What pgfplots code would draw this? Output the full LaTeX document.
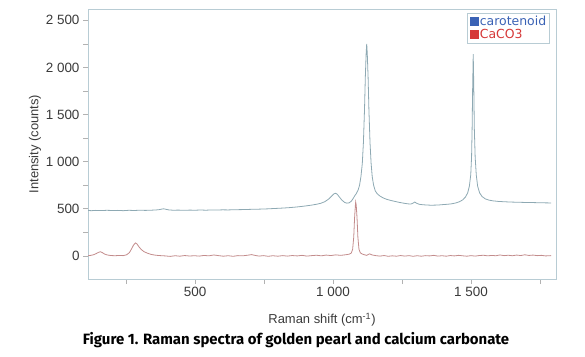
\documentclass[border=0pt]{standalone}
\usepackage{fontspec}
\setmainfont{Liberation Sans}
\newfontfamily\capfont{Fira Sans}
\newfontfamily\legfont{DejaVu Sans}
\usepackage{pgfplots}
\pgfplotsset{compat=1.18}
\definecolor{axcol}{HTML}{B8CCD4}
\definecolor{carline}{HTML}{8EA9B3}
\definecolor{caline}{HTML}{C38C8C}
\definecolor{legblue}{HTML}{3A62B5}
\definecolor{legred}{HTML}{D63838}
\definecolor{txt}{HTML}{3A3A3A}
\begin{document}
\begin{tikzpicture}[x=1bp,y=1bp]
\useasboundingbox (0,0) rectangle (585,356);
\begin{axis}[
  at={(88bp,77bp)}, anchor=south west,
  scale only axis, width=468bp, height=270bp,
  xmin=112, xmax=1808, ymin=-245, ymax=2620,
  axis line style={axcol, line width=0.9pt},
  tick pos=left, tick align=outside,
  tick style={color=gray!60, line width=0.6pt},
  major tick length=5bp, minor tick length=5bp,
  xtick={500,1000,1500}, minor xtick={250,750,1250,1750},
  ytick={0,500,1000,1500,2000,2500},
  minor ytick={-250,250,750,1250,1750,2250},
  ticklabel style={font=\fontsize{13.5}{15}\selectfont, text=txt},
  /pgf/number format/assume math mode=true,
  /pgf/number format/1000 sep={\hspace{0.28em}},
  xlabel={Raman shift (cm\textsuperscript{-1})},
  ylabel={Intensity (counts)},
  label style={font=\fontsize{13}{15}\selectfont, text=txt},
  xlabel style={yshift=-9bp},
  ylabel style={yshift=-2bp},
  legend style={at={(1,1)}, xshift=-6bp, yshift=-4bp, anchor=north east,
    draw=axcol, line width=0.6pt, font=\legfont\fontsize{12.5}{13}\selectfont,
    inner xsep=2bp, inner ysep=1bp, row sep=-2bp,
    nodes={inner xsep=1.5bp}},
  legend cell align=left,
]
\addlegendimage{legend image code/.code={\fill[legblue] (0bp,-4bp) rectangle (8bp,4bp);}}
\addlegendentry{\textcolor{legblue}{carotenoid}}
\addlegendimage{legend image code/.code={\fill[legred] (0bp,-4bp) rectangle (8bp,4bp);}}
\addlegendentry{\textcolor{legred}{CaCO3}}

\addplot[carline, line width=0.8pt, forget plot] coordinates {
(112,482) (125,480) (140,483) (160,481) (180,484) (200,482) (220,483) (240,480)
(260,484) (280,482) (300,485) (320,483) (340,485) (355,487) (368,490) (378,496)
(386,500) (394,495) (405,488) (420,485) (440,486) (460,484) (480,486) (500,485)
(520,487) (540,485) (560,488) (580,487) (600,489) (620,488) (640,490) (660,491)
(680,492) (700,494) (720,495) (740,497) (760,499) (780,502) (800,505) (820,508)
(840,512) (860,517) (880,523) (900,530) (920,538) (940,548) (955,558) (970,575)
(985,605) (995,635) (1003,658) (1009,665) (1015,655) (1023,625) (1032,592) (1042,568)
(1050,560) (1058,563) (1066,580) (1073,610) (1079,640) (1084,660) (1087,678) (1091,700)
(1096,750) (1101,840) (1106,980) (1110,1200) (1114,1550) (1117,1900) (1120,2150) (1122,2250)
(1124,2150) (1127,1900) (1130,1550) (1134,1200) (1138,980) (1142,840) (1147,750) (1153,690)
(1160,660) (1170,635) (1182,615) (1195,600) (1210,588) (1225,578) (1240,568) (1255,560)
(1270,553) (1282,550) (1290,560) (1296,572) (1302,560) (1312,548) (1325,543) (1340,540)
(1355,538) (1370,539) (1385,541) (1400,545) (1415,548) (1430,553) (1445,562) (1458,575)
(1470,595) (1480,625) (1488,670) (1494,740) (1499,860) (1502,1050) (1504,1350) (1506,1800)
(1508,2140) (1510,1800) (1512,1350) (1515,1050) (1519,860) (1524,740) (1531,670) (1540,630)
(1552,605) (1565,592) (1580,584) (1600,578) (1625,574) (1650,571) (1675,569) (1700,567)
(1725,566) (1750,564) (1770,563) (1790,562)
};
\addplot[caline, line width=0.8pt, forget plot] coordinates {
(112,2) (122,6) (132,12) (142,25) (150,38) (157,44) (164,35) (172,20) (182,10) (195,4)
(210,2) (225,5) (240,3) (252,12) (262,35) (270,75) (277,115) (284,138) (290,125) (297,95)
(305,68) (315,45) (328,28) (342,15) (358,7) (375,3) (392,0) (410,-5) (428,2) (445,-3)
(462,4) (480,-1) (498,2) (515,-2) (532,5) (550,1) (568,10) (585,3) (602,-3) (620,2)
(638,-4) (655,3) (672,1) (690,7) (705,14) (718,5) (732,-2) (748,3) (765,-4) (782,2)
(800,-3) (818,3) (835,-2) (852,4) (870,0) (888,6) (905,-2) (922,3) (940,7) (958,1)
(975,9) (992,4) (1010,11) (1028,6) (1045,12) (1058,18) (1066,30) (1071,70) (1075,200)
(1078,400) (1081,540) (1082,572) (1084,540) (1087,400) (1090,200) (1094,70) (1099,32)
(1106,20) (1114,12) (1122,6) (1132,22) (1142,10) (1155,3) (1170,-2) (1185,4) (1200,-4)
(1215,1) (1230,-3) (1245,4) (1260,-2) (1275,3) (1290,-4) (1305,2) (1320,-3) (1335,3)
(1350,0) (1365,6) (1380,-2) (1395,2) (1410,-3) (1425,4) (1440,0) (1455,6) (1470,1)
(1485,-3) (1500,3) (1515,-2) (1530,4) (1545,7) (1560,1) (1575,5) (1590,2) (1605,10)
(1620,3) (1635,7) (1650,2) (1665,9) (1680,4) (1695,12) (1710,5) (1725,9) (1740,3)
(1755,6) (1770,0) (1790,3)
};
\end{axis}
\node[font=\capfont\bfseries\fontsize{15}{18}\selectfont, text=black] at (296bp,16bp) {Figure 1. Raman spectra of golden pearl and calcium carbonate};
\end{tikzpicture}
\end{document}
